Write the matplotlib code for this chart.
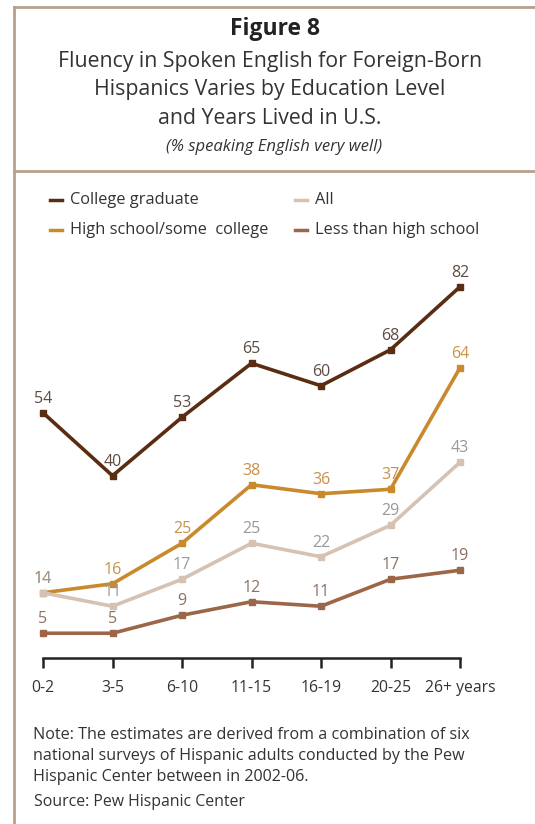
import matplotlib
matplotlib.use("Agg")
import matplotlib.pyplot as plt
from matplotlib.lines import Line2D

plt.rcParams['font.family'] = ['Open Sans', 'DejaVu Sans']

# years lived in the U.S.
periods = ['0-2', '3-5', '6-10', '11-15', '16-19', '20-25', '26+ years']

college = [54, 40, 53, 65, 60, 68, 82]
high_school = [14, 16, 25, 38, 36, 37, 64]
all_hisp = [14, 11, 17, 25, 22, 29, 43]
less_hs = [5, 5, 9, 12, 11, 17, 19]

series_names = ['College graduate', 'High school/some  college', 'All', 'Less than high school']

W, H = 535, 824
fig = plt.figure(figsize=(W / 100, H / 100), dpi=100)
fig.patch.set_facecolor('white')

def px(x, y):
    return x / W, 1 - y / H

border = '#b8a08c'
# frame around the title block and the chart block
fig.add_artist(Line2D([14 / W, 1], [1 - 7 / H] * 2, color=border, lw=2))
fig.add_artist(Line2D([14 / W, 1], [1 - 171 / H] * 2, color=border, lw=2))
fig.add_artist(Line2D([14 / W] * 2, [0, 1 - 7 / H], color=border, lw=2))

dark = '#333333'
fig.text(*px(275, 29), 'Figure 8', ha='center', va='center', fontsize=16.5,
         fontweight='bold', color='#222222')
title_lines = ['Fluency in Spoken English for Foreign-Born',
               'Hispanics Varies by Education Level',
               'and Years Lived in U.S.']
for i, line in enumerate(title_lines):
    fig.text(*px(270, 62 + i * 28), line, ha='center', va='center',
             fontsize=15.3, color=dark)
fig.text(*px(274, 147), '(% speaking English very well)', ha='center', va='center',
         fontsize=12, style='italic', color=dark)

line_colors = ['#5a2c12', '#c88a2c', '#d6c2b2', '#9c6648']
label_colors = ['#5e4a40', '#c8914c', '#999999', '#8a7064']
data = [college, high_school, all_hisp, less_hs]

# legend drawn as two columns of short line keys
legend_pos = [(50, 200), (50, 230), (295, 200), (295, 230)]
for (lx, ly), name, c in zip(legend_pos, series_names, line_colors):
    fig.add_artist(Line2D([lx / W, (lx + 12) / W], [1 - ly / H] * 2, color=c, lw=2.5))
    fig.text(*px(lx + 20, ly), name, ha='left', va='center', fontsize=11.8, color=dark)

ax = fig.add_axes([43 / W, 166 / H, (460 - 43) / W, 371.25 / H])
ax.set_xlim(0, 6)
ax.set_ylim(-0.5, 82)
x = list(range(len(periods)))

for vals, c, lc in zip(data, line_colors, label_colors):
    ax.plot(x, vals, color=c, lw=2.6, marker='s', markersize=4, clip_on=False)
    for xi, v in zip(x, vals):
        ax.annotate(str(v), (xi, v), xytext=(0, 10), textcoords='offset points',
                    ha='center', va='center', fontsize=11.5, color=lc)

for s in ['top', 'right', 'left']:
    ax.spines[s].set_visible(False)
ax.spines['bottom'].set_color('#222222')
ax.spines['bottom'].set_linewidth(1.8)
ax.spines['bottom'].set_bounds(0, 6)
ax.set_xticks(x)
ax.set_xticklabels(periods, fontsize=11.3, color=dark)
ax.tick_params(axis='x', direction='out', length=7, width=1.8, color='#222222', pad=9)
ax.set_yticks([])
ax.patch.set_alpha(0)

note = ['Note: The estimates are derived from a combination of six',
        'national surveys of Hispanic adults conducted by the Pew',
        'Hispanic Center between in 2002-06.']
for i, line in enumerate(note):
    fig.text(*px(33, 735 + i * 21), line, ha='left', va='center', fontsize=11.6, color=dark)
fig.text(*px(34, 802), 'Source: Pew Hispanic Center', ha='left', va='center',
         fontsize=11.4, color=dark)

fig.savefig('out.png', dpi=100)
